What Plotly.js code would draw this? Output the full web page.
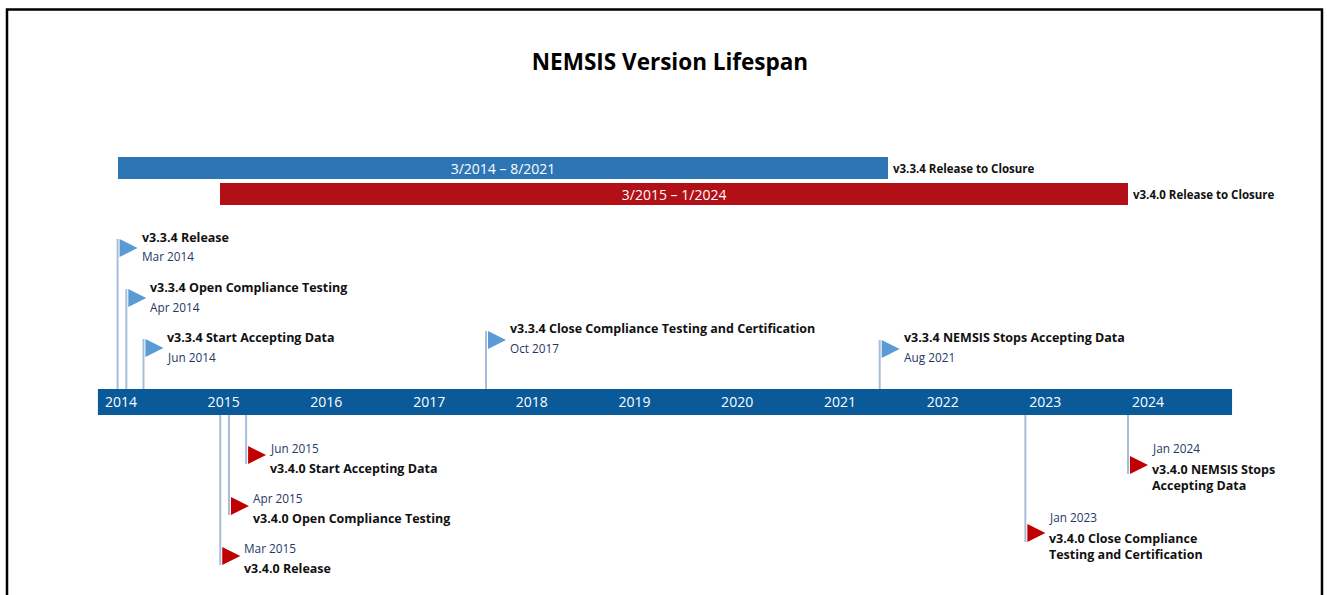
<!DOCTYPE html>
<html>
<head>
<meta charset="utf-8">
<script src="https://cdn.plot.ly/plotly-3.0.1.min.js"></script>
<style>html,body{margin:0;padding:0;background:#fff;}#chart{width:1327px;height:595px;}</style>
</head>
<body>
<div id="chart"></div>
<script>
// ---------- DATA ----------
const chartTitle = 'NEMSIS Version Lifespan';
const years = [2014, 2015, 2016, 2017, 2018, 2019, 2020, 2021, 2022, 2023, 2024];

const spanNames = ['v3.3.4 Release to Closure', 'v3.4.0 Release to Closure'];
const spanStart = ['2014-03-01', '2015-03-01'];
const spanEnd = ['2021-09-01', '2024-01-01'];
const spanText = ['3/2014 – 8/2021', '3/2015 – 1/2024'];
const spanVersion = ['v3.3.4', 'v3.4.0'];

const milestoneTitles = [
  'v3.3.4 Release',
  'v3.3.4 Open Compliance Testing',
  'v3.3.4 Start Accepting Data',
  'v3.3.4 Close Compliance Testing and Certification',
  'v3.3.4 NEMSIS Stops Accepting Data',
  'v3.4.0 Release',
  'v3.4.0 Open Compliance Testing',
  'v3.4.0 Start Accepting Data',
  'v3.4.0 Close Compliance<br>Testing and Certification',
  'v3.4.0 NEMSIS Stops<br>Accepting Data'
];
const milestoneDates = [
  '2014-03-01', '2014-04-01', '2014-06-01', '2017-10-01', '2021-08-01',
  '2015-03-01', '2015-04-01', '2015-06-01', '2023-01-01', '2024-01-01'
];
const milestoneDateLabels = [
  'Mar 2014', 'Apr 2014', 'Jun 2014', 'Oct 2017', 'Aug 2021',
  'Mar 2015', 'Apr 2015', 'Jun 2015', 'Jan 2023', 'Jan 2024'
];
const milestoneVersion = [
  'v3.3.4', 'v3.3.4', 'v3.3.4', 'v3.3.4', 'v3.3.4',
  'v3.4.0', 'v3.4.0', 'v3.4.0', 'v3.4.0', 'v3.4.0'
];

// ---------- LAYOUT / STYLE (positions in screen rows, kept apart from data) ----------
const FONT = '"Open Sans", Lato, sans-serif';
const versionStyle = {
  'v3.3.4': {bar: '#2E75B6', flag: '#5B9BD5', side: 'above', barRow: 168},
  'v3.4.0': {bar: '#B20F16', flag: '#C00000', side: 'below', barRow: 194}
};
// rows: flag centre, title centre, date centre (pixels from top)
const laneRows = [
  {flag: 248, title: 237, date: 256},
  {flag: 298, title: 287, date: 307},
  {flag: 348, title: 337, date: 357},
  {flag: 340, title: 328, date: 348},
  {flag: 349, title: 337, date: 357},
  {flag: 556, title: 568, date: 548},
  {flag: 506, title: 518, date: 498},
  {flag: 455, title: 468, date: 448},
  {flag: 533, title: 546, date: 517},
  {flag: 465, title: 477, date: 448}
];
const band = {x0: '2013-12-21', x1: '2025-01-05', top: 389, bottom: 415, color: '#0A5A99'};
const W = 1327, H = 595;
const PX2014 = 101, PX2024 = 1128;

// ---------- BUILD ----------
const ms = s => Date.parse(s);
const k = (PX2024 - PX2014) / (ms('2024-01-01') - ms('2014-01-01'));
const toStr = v => new Date(v).toISOString().replace('T', ' ').replace('Z', '');
const xRange = [toStr(ms('2014-01-01') - PX2014 / k), toStr(ms('2014-01-01') + (W - PX2014) / k)];

const traces = [];

// span bars
traces.push({
  type: 'bar', orientation: 'h',
  base: spanStart,
  x: spanStart.map((s, i) => ms(spanEnd[i]) - ms(s)),
  y: spanVersion.map(v => versionStyle[v].barRow),
  width: 22,
  marker: {color: spanVersion.map(v => versionStyle[v].bar), line: {width: 0}},
  text: spanText, textposition: 'inside', insidetextanchor: 'middle', textangle: 0, constraintext: 'none',
  textfont: {color: '#ffffff', size: 14, family: FONT},
  hoverinfo: 'skip', showlegend: false, cliponaxis: false
});

// poles
const px = [], py = [];
milestoneDates.forEach((d, i) => {
  const st = versionStyle[milestoneVersion[i]];
  const r = laneRows[i];
  px.push(d, d, null);
  if (st.side === 'above') py.push(r.flag - 9, band.top, null);
  else py.push(band.bottom, r.flag + 9, null);
});
traces.push({
  type: 'scatter', mode: 'lines', x: px, y: py,
  line: {color: '#A9BDD8', width: 2}, hoverinfo: 'skip', showlegend: false
});

const shapes = [];
shapes.push({type: 'rect', xref: 'x', yref: 'y', x0: band.x0, x1: band.x1, y0: band.top, y1: band.bottom,
  fillcolor: band.color, line: {width: 0}, layer: 'below'});
milestoneDates.forEach((d, i) => {
  const st = versionStyle[milestoneVersion[i]];
  shapes.push({type: 'path', xref: 'x', yref: 'y', xsizemode: 'pixel', ysizemode: 'pixel',
    xanchor: d, yanchor: laneRows[i].flag, path: 'M 2 9 L 20 0 L 2 -9 Z',
    fillcolor: st.flag, line: {width: 0}, layer: 'above'});
});
shapes.push({type: 'rect', xref: 'paper', yref: 'paper', x0: 7 / W, x1: 1322 / W, y0: -0.05, y1: 1 - 9.5 / H,
  line: {color: '#000', width: 2.5}, fillcolor: 'rgba(0,0,0,0)', layer: 'above'});

const annotations = [];
milestoneDates.forEach((d, i) => {
  annotations.push({xref: 'x', yref: 'y', x: d, y: laneRows[i].title, xanchor: 'left', yanchor: 'middle',
    xshift: 22, text: '<b>' + milestoneTitles[i] + '</b>', showarrow: false, align: 'left',
    font: {family: FONT, size: 12.5, color: '#111111'}});
  annotations.push({xref: 'x', yref: 'y', x: d, y: laneRows[i].date, xanchor: 'left', yanchor: 'middle',
    xshift: 22, text: milestoneDateLabels[i], showarrow: false, align: 'left',
    font: {family: FONT, size: 11.8, color: '#1F3864'}});
});
spanEnd.forEach((d, i) => {
  annotations.push({xref: 'x', yref: 'y', x: d, y: versionStyle[spanVersion[i]].barRow, xanchor: 'left', yanchor: 'middle',
    xshift: 3, text: '<b>' + spanNames[i] + '</b>', showarrow: false,
    font: {family: FONT, size: 11.5, color: '#111111'}});
});

const layout = {
  width: W, height: H, margin: {l: 0, r: 0, t: 0, b: 0},
  paper_bgcolor: '#ffffff', plot_bgcolor: '#ffffff',
  title: {text: '<b>' + chartTitle + '</b>', x: 670 / W, xanchor: 'center', y: 1 - 62 / H, yanchor: 'middle',
    xref: 'paper', yref: 'paper', font: {family: FONT, size: 22.5, color: '#000'}},
  xaxis: {type: 'date', range: xRange, showgrid: false, zeroline: false, showline: false, ticks: '',
    tickvals: years.map(y => y + '-01-01'), ticktext: years.map(String), ticklabelshift: 20,
    tickfont: {family: FONT, size: 14, color: '#ffffff'}, anchor: 'free', position: 1 - 392 / H, fixedrange: true},
  yaxis: {range: [H, 0], visible: false, fixedrange: true},
  shapes, annotations, showlegend: false, hovermode: false, bargap: 0
};

Plotly.newPlot('chart', traces, layout, {staticPlot: true, displayModeBar: false});
</script>
</body>
</html>
